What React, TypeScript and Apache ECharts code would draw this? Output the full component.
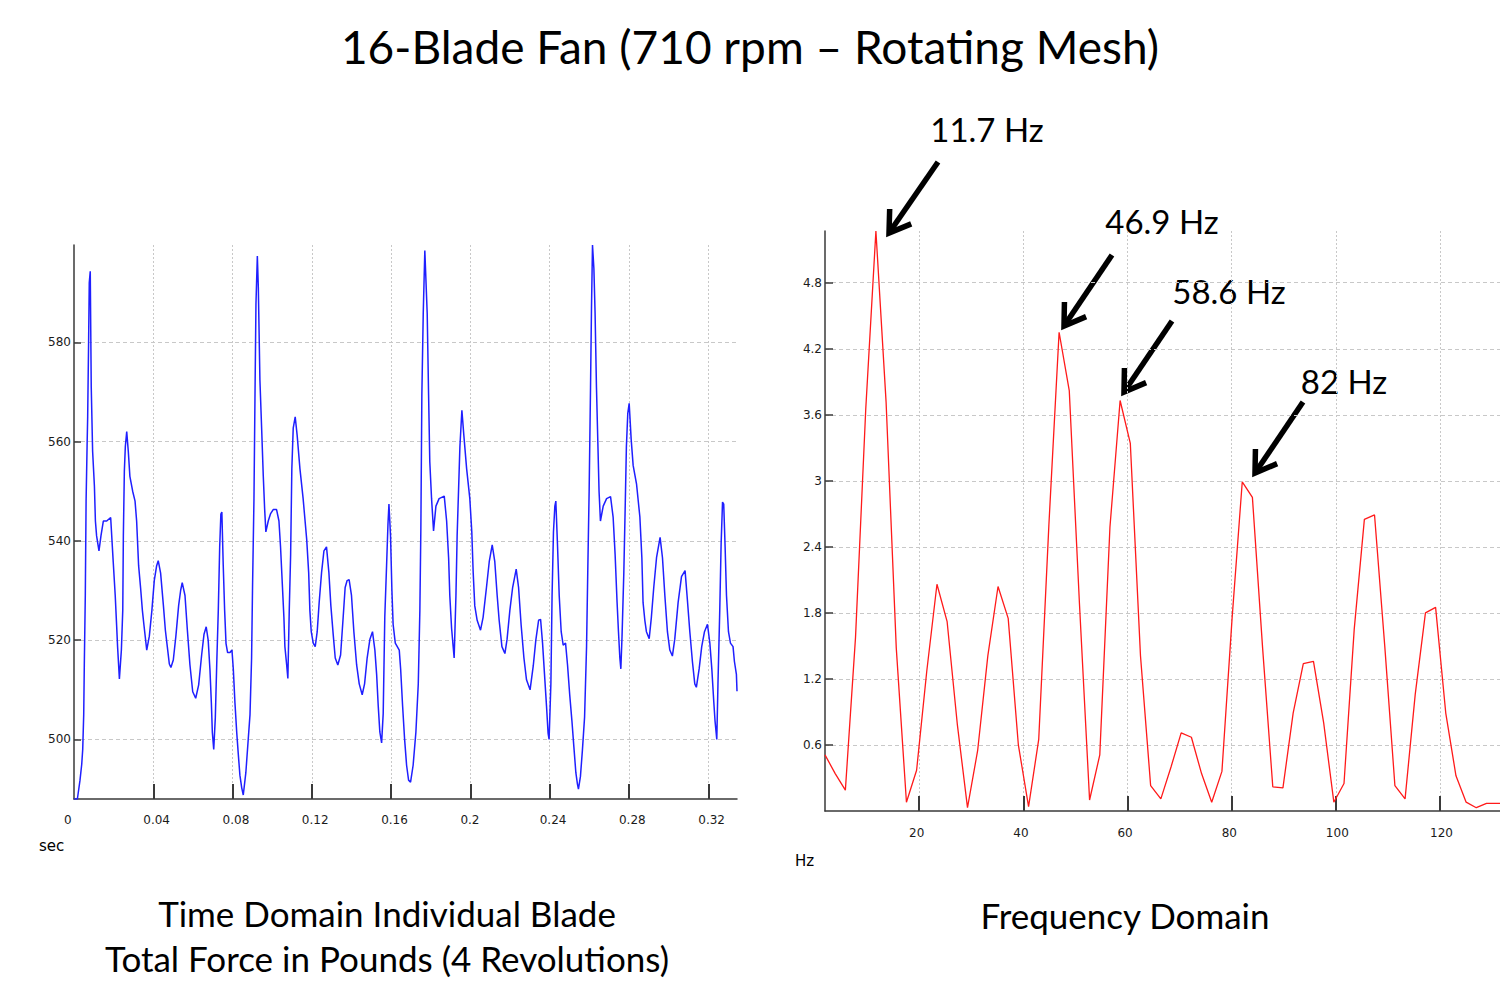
import React, { useEffect, useRef } from "react";
import * as echarts from "echarts";

// ---------- Time domain: individual blade total force (lb) ----------
const TIME_SEC = [
  0.0, 0.0017, 0.003, 0.0039, 0.0044, 0.0049, 0.0052, 0.0057, 0.0061, 0.0066, 0.0069, 0.0074, 0.0077, 0.0082,
  0.0087, 0.0094, 0.0103, 0.0108, 0.0114, 0.0126, 0.0136, 0.0148, 0.0165, 0.0185, 0.0198, 0.0208, 0.0215, 0.022,
  0.0229, 0.0239, 0.0246, 0.0249, 0.0254, 0.0259, 0.0266, 0.0274, 0.0282, 0.0296, 0.0308, 0.0316, 0.0326, 0.0336,
  0.0345, 0.0353, 0.0367, 0.038, 0.0393, 0.0405, 0.0417, 0.0425, 0.0437, 0.0451, 0.0461, 0.0471, 0.0481, 0.0489,
  0.0501, 0.0514, 0.0528, 0.0538, 0.0546, 0.056, 0.0572, 0.0585, 0.0599, 0.0614, 0.0629, 0.0644, 0.0656, 0.0667,
  0.0677, 0.0686, 0.0693, 0.0698, 0.0705, 0.0713, 0.072, 0.0728, 0.0735, 0.0741, 0.0746, 0.0753, 0.076, 0.0767,
  0.0775, 0.0787, 0.0797, 0.0804, 0.0812, 0.0821, 0.0829, 0.0837, 0.0846, 0.0854, 0.0867, 0.0879, 0.0888, 0.0896,
  0.0901, 0.0908, 0.0913, 0.0918, 0.0925, 0.093, 0.0938, 0.0947, 0.0955, 0.0962, 0.0968, 0.098, 0.0992, 0.1005,
  0.1022, 0.1034, 0.1042, 0.1051, 0.1059, 0.1064, 0.1073, 0.1079, 0.1086, 0.1093, 0.1099, 0.1106, 0.1116, 0.1126,
  0.114, 0.1156, 0.1174, 0.1184, 0.119, 0.1197, 0.1207, 0.1217, 0.1227, 0.1237, 0.1249, 0.1261, 0.1274, 0.1286,
  0.1296, 0.1308, 0.1318, 0.1331, 0.1345, 0.1358, 0.1368, 0.1378, 0.1388, 0.14, 0.1412, 0.1426, 0.1439, 0.1454,
  0.1466, 0.1479, 0.1493, 0.1506, 0.1518, 0.1527, 0.1535, 0.1543, 0.1552, 0.156, 0.1568, 0.1577, 0.1584, 0.1589,
  0.1597, 0.1604, 0.161, 0.1621, 0.1631, 0.1641, 0.1648, 0.1658, 0.1668, 0.1678, 0.1688, 0.1698, 0.1711, 0.1725,
  0.1737, 0.1745, 0.175, 0.1755, 0.1762, 0.177, 0.1782, 0.1789, 0.1795, 0.1804, 0.1814, 0.1826, 0.1842, 0.1868,
  0.188, 0.189, 0.1896, 0.1905, 0.1913, 0.1918, 0.1927, 0.1933, 0.194, 0.1947, 0.1957, 0.1967, 0.1981, 0.1997,
  0.2007, 0.2014, 0.2022, 0.2034, 0.2051, 0.2064, 0.2081, 0.2095, 0.211, 0.2123, 0.2135, 0.2145, 0.2159, 0.2174,
  0.2185, 0.2199, 0.2213, 0.2231, 0.2243, 0.2256, 0.227, 0.2283, 0.2301, 0.2317, 0.233, 0.2344, 0.2354, 0.2364,
  0.2374, 0.2384, 0.2392, 0.2397, 0.2406, 0.2412, 0.2419, 0.2426, 0.2431, 0.2439, 0.2448, 0.2458, 0.2468, 0.248,
  0.249, 0.2501, 0.2512, 0.2522, 0.2532, 0.254, 0.2545, 0.2555, 0.2565, 0.2576, 0.2586, 0.2592, 0.2599, 0.2606,
  0.2611, 0.2616, 0.2623, 0.2629, 0.2636, 0.2643, 0.2649, 0.2656, 0.267, 0.2687, 0.2707, 0.272, 0.273, 0.274,
  0.2747, 0.2754, 0.2759, 0.2765, 0.2774, 0.2781, 0.2787, 0.2794, 0.2801, 0.2811, 0.2821, 0.2838, 0.2855, 0.2865,
  0.2871, 0.288, 0.2888, 0.2902, 0.2913, 0.2925, 0.2939, 0.2957, 0.2969, 0.2981, 0.2994, 0.3006, 0.3019, 0.3031,
  0.3048, 0.3065, 0.3083, 0.3093, 0.3107, 0.312, 0.3132, 0.314, 0.3154, 0.3167, 0.3181, 0.3196, 0.3208, 0.3218,
  0.3228, 0.3234, 0.3243, 0.3249, 0.3258, 0.3265, 0.3272, 0.3278, 0.3285, 0.3292, 0.3302, 0.3312, 0.3325, 0.3332,
  0.3342, 0.3345,
];

const FORCE_LB = [
  488, 488, 491.7, 495, 498, 505, 515, 529, 548, 559, 565, 581, 592, 594.3,
  571, 558, 551, 544, 541, 538, 541, 544, 544, 544.7, 535.7, 529, 523, 518.6,
  512.2, 518, 526, 541, 554, 559, 562, 558, 553, 550, 548, 544, 535, 530.5,
  526, 523, 518, 520.8, 526, 532, 535, 536, 533.5, 527, 522, 518.6, 515.2, 514.5,
  516, 520.8, 527, 530, 531.6, 529, 522, 515, 509.6, 508.3, 511, 517, 521.2, 522.7,
  520, 514, 507.4, 501.4, 498, 504.4, 515, 526, 538.7, 545.4, 545.8, 535, 526, 519.3,
  517.5, 517.5, 518, 514, 507.4, 501.4, 497, 492.8, 490.3, 488.8, 493.3, 500, 505, 516.4,
  531.3, 548.5, 568.7, 587.7, 597.4, 591, 572.4, 562.3, 553, 546.3, 541.8, 544, 545.5, 546.3,
  546.3, 544, 538.8, 531.3, 524.6, 518.7, 515, 512.3, 526, 537.3, 554.5, 562.7, 565, 561.2,
  554.5, 548.5, 540.3, 533.6, 526, 521.7, 519.4, 518.7, 521.7, 527.6, 533.6, 538, 538.8, 533.6,
  526.9, 521, 516.4, 515, 517, 524.6, 530.6, 532, 532.2, 529, 521.7, 515, 511.2, 509,
  511.2, 516.4, 520.2, 521.7, 518, 513, 506.7, 501.5, 499.3, 505.2, 524.6, 535, 543.3, 547.4,
  541, 529.9, 523.2, 519.4, 518.7, 518, 514.2, 506.7, 500, 494.8, 491.8, 491.4, 494.8, 501.5,
  511.2, 526, 542.5, 569.4, 585.8, 598.5, 585.8, 569.4, 556, 548.5, 542, 547, 548.5, 549,
  544, 536.6, 529, 522.4, 518.7, 516.4, 529, 541, 550, 559, 566.3, 561.2, 554.5, 548.5,
  541.8, 533.6, 526.9, 524, 522, 524.6, 530.6, 535.8, 539.2, 535.8, 529, 524, 518.7, 517.3,
  520.2, 526, 530.6, 534.3, 530.6, 523, 516.4, 512, 510, 514.8, 520, 524, 524.2, 519.4,
  513, 506.7, 501.2, 500, 511.2, 529, 541.8, 547, 548, 539.6, 529, 521.7, 519, 519.4,
  515, 509, 503.8, 498.5, 493.3, 491, 490, 492.5, 497.8, 504.5, 518.7, 533.6, 550, 570.9,
  587.3, 599.6, 594.8, 585.8, 570.9, 559.7, 550, 544, 547, 548.5, 548.9, 544.8, 537.3, 527.6,
  521.7, 516.4, 514.2, 520.8, 533.6, 547, 559, 565.7, 567.7, 560.5, 555.2, 551.5, 544.8, 536.6,
  527.6, 524, 521.7, 520.3, 524.6, 530.6, 536.6, 540.7, 536.6, 529, 521.7, 518, 516.8, 520.2,
  527.6, 532.8, 534, 529, 521.7, 515.7, 511.2, 510.5, 514.2, 518.7, 521.7, 523.2, 519.4, 514.2,
  507.5, 503.8, 500, 511.2, 526, 539.6, 547.8, 547.4, 538.8, 529, 521.7, 519.4, 518.7, 515.7,
  513.1, 509.7,
];

// ---------- Frequency domain ----------
const FREQ_HZ = [
  1.95, 3.91, 5.86, 7.81, 9.77, 11.72, 13.67, 15.63, 17.58, 19.53, 21.48, 23.44, 25.39, 27.34, 29.3, 31.25, 33.2,
  35.16, 37.11, 39.06, 41.02, 42.97, 44.92, 46.88, 48.83, 50.78, 52.73, 54.69, 56.64, 58.59, 60.55, 62.5, 64.45,
  66.41, 68.36, 70.31, 72.27, 74.22, 76.17, 78.13, 80.08, 82.03, 83.98, 85.94, 87.89, 89.84, 91.8, 93.75, 95.7,
  97.66, 99.61, 101.56, 103.52, 105.47, 107.42, 109.38, 111.33, 113.28, 115.23, 117.19, 119.14, 121.09, 123.05,
  125.0, 126.95, 128.91, 130.86, 132.81,
];

const AMPLITUDE = [
  0.51, 0.34, 0.19, 1.58, 3.65, 5.27, 3.72, 1.48, 0.08, 0.37, 1.27, 2.06, 1.72, 0.79, 0.03, 0.55, 1.41,
  2.04, 1.75, 0.6, 0.04, 0.65, 2.6, 4.35, 3.82, 1.89, 0.1, 0.51, 2.58, 3.73, 3.34, 1.41, 0.23,
  0.11, 0.4, 0.71, 0.67, 0.34, 0.08, 0.36, 1.75, 2.99, 2.85, 1.48, 0.22, 0.21, 0.89, 1.34, 1.36,
  0.8, 0.08, 0.25, 1.65, 2.65, 2.69, 1.5, 0.23, 0.11, 1.06, 1.8, 1.85, 0.89, 0.32,
  0.08, 0.03, 0.07, 0.07, 0.07,
];

// ---------- Tick values ----------
const TIME_TICKS = [0, 0.04, 0.08, 0.12, 0.16, 0.2, 0.24, 0.28, 0.32];
const FORCE_TICKS = [500, 520, 540, 560, 580];
const FREQ_TICKS = [20, 40, 60, 80, 100, 120];
const AMP_TICKS = [0.6, 1.2, 1.8, 2.4, 3, 3.6, 4.2, 4.8];

// ---------- Text ----------
const TITLE = "16-Blade Fan (710 rpm \u2013 Rotating Mesh)";
const LEFT_CAPTION = ["Time Domain Individual Blade", "Total Force in Pounds (4 Revolutions)"];
const RIGHT_CAPTION = "Frequency Domain";
const PEAK_LABELS = ["11.7 Hz", "46.9 Hz", "58.6 Hz", "82 Hz"];

const TICK_FONT = "DejaVu Sans";
const TEXT_FONT = "Lato";

function arrow(sx: number, sy: number, tx: number, ty: number) {
  const dx = tx - sx;
  const dy = ty - sy;
  const len = Math.sqrt(dx * dx + dy * dy);
  const ux = dx / len;
  const uy = dy / len;
  const L = 24;
  const a = (33 * Math.PI) / 180;
  const rot = (ang: number) => [
    tx - L * (ux * Math.cos(ang) - uy * Math.sin(ang)),
    ty - L * (ux * Math.sin(ang) + uy * Math.cos(ang)),
  ];
  return [
    {
      type: "line",
      shape: { x1: sx, y1: sy, x2: tx - ux * 3, y2: ty - uy * 3 },
      style: { stroke: "#000", lineWidth: 5.5 },
      silent: true,
    },
    {
      type: "polyline",
      shape: { points: [rot(a), [tx, ty], rot(-a)] },
      style: { stroke: "#000", lineWidth: 5.5, fill: null, lineJoin: "miter" },
      silent: true,
    },
  ];
}

function label(text: string, x: number, y: number, size: number, font = TEXT_FONT, align = "center") {
  return {
    type: "text",
    x,
    y,
    silent: true,
    style: {
      text,
      fill: "#000",
      font: `${size}px "${font}"`,
      textAlign: align,
      textVerticalAlign: "middle",
      verticalAlign: "middle",
    },
  };
}

export default function App() {
  const ref = useRef<HTMLDivElement>(null);

  useEffect(() => {
    if (!ref.current) return;
    const chart = echarts.init(ref.current, undefined, { renderer: "svg" });

    const tickLabel = { fontFamily: TICK_FONT, fontSize: 12, color: "#1b1b1b" };
    const gridLineH = { show: true, lineStyle: { color: "#c8c8c8", width: 1, type: [4, 3] } };
    const gridLineV = { show: true, lineStyle: { color: "#c8c8c8", width: 1, type: [2, 2] } };
    const axisLineStyle = { show: true, lineStyle: { color: "#3a3a3a", width: 1.5 } };

    const option: any = {
      animation: false,
      backgroundColor: "#ffffff",
      grid: [
        { left: 74, top: 245, width: 663, height: 554, outerBoundsMode: "none", containLabel: false },
        { left: 825, top: 231, width: 675, height: 580, outerBoundsMode: "none", containLabel: false },
      ],
      xAxis: [
        {
          type: "value",
          gridIndex: 0,
          min: 0,
          max: TIME_SEC[TIME_SEC.length - 1],
          interval: 0.04,
          axisLine: axisLineStyle,
          axisTick: {
            show: true,
            inside: true,
            length: 15,
            customValues: TIME_TICKS.slice(1),
            lineStyle: { color: "#3a3a3a", width: 2 },
          },
          axisLabel: {
            ...tickLabel,
            customValues: TIME_TICKS,
            align: "left",
            padding: [0, 0, 0, -10],
            margin: 15,
          },
          splitLine: gridLineV,
        },
        {
          type: "value",
          gridIndex: 1,
          min: FREQ_HZ[0],
          max: 131.5,
          splitNumber: 6,
          axisLine: axisLineStyle,
          axisTick: {
            show: true,
            inside: true,
            length: 15,
            customValues: FREQ_TICKS,
            lineStyle: { color: "#3a3a3a", width: 2 },
          },
          axisLabel: {
            ...tickLabel,
            customValues: FREQ_TICKS,
            align: "left",
            padding: [0, 0, 0, -10],
            margin: 16,
          },
          splitLine: gridLineV,
        },
      ],
      yAxis: [
        {
          type: "value",
          gridIndex: 0,
          min: "dataMin",
          max: "dataMax",
          axisLine: axisLineStyle,
          axisTick: {
            show: true,
            inside: true,
            length: 7,
            customValues: FORCE_TICKS,
            lineStyle: { color: "#3a3a3a", width: 1.5 },
          },
          axisLabel: {
            ...tickLabel,
            customValues: FORCE_TICKS,
            margin: 3,
          },
          splitLine: gridLineH,
        },
        {
          type: "value",
          gridIndex: 1,
          min: 0,
          max: "dataMax",
          interval: 0.6,
          axisLine: axisLineStyle,
          axisTick: {
            show: true,
            inside: true,
            length: 8,
            customValues: AMP_TICKS,
            lineStyle: { color: "#3a3a3a", width: 1.5 },
          },
          axisLabel: {
            ...tickLabel,
            customValues: AMP_TICKS,
            margin: 3,
          },
          splitLine: gridLineH,
        },
      ],
      series: [
        {
          type: "line",
          xAxisIndex: 0,
          yAxisIndex: 0,
          data: TIME_SEC.map((t, i) => [t, FORCE_LB[i]]),
          symbol: "none",
          showSymbol: false,
          silent: true,
          lineStyle: { color: "#1f1fff", width: 1.5 },
        },
        {
          type: "line",
          xAxisIndex: 1,
          yAxisIndex: 1,
          data: FREQ_HZ.map((f, i) => [f, AMPLITUDE[i]]),
          symbol: "none",
          showSymbol: false,
          silent: true,
          lineStyle: { color: "#ff1a1a", width: 1.3 },
        },
      ],
      graphic: [
        label(TITLE, 750, 46, 46),
        label(LEFT_CAPTION[0], 387, 913, 35),
        label(LEFT_CAPTION[1], 387, 958, 35),
        label(RIGHT_CAPTION, 1125, 915, 35),
        label(PEAK_LABELS[0], 987, 129, 33),
        label(PEAK_LABELS[1], 1162, 221, 33),
        label(PEAK_LABELS[2], 1229, 291, 33),
        label(PEAK_LABELS[3], 1344, 381, 33),
        label("sec", 39, 846, 15, TICK_FONT, "left"),
        label("Hz", 795, 861, 15, TICK_FONT, "left"),
        ...arrow(938, 162, 889, 233),
        ...arrow(1112, 255, 1064, 326),
        ...arrow(1172, 321, 1124, 392),
        ...arrow(1303, 402, 1255, 473),
      ],
    };

    chart.setOption(option);
    return () => chart.dispose();
  }, []);

  return (
    <div
      ref={ref}
      style={{ position: "fixed", left: 0, top: 0, width: 1500, height: 1004, background: "#fff" }}
    />
  );
}
